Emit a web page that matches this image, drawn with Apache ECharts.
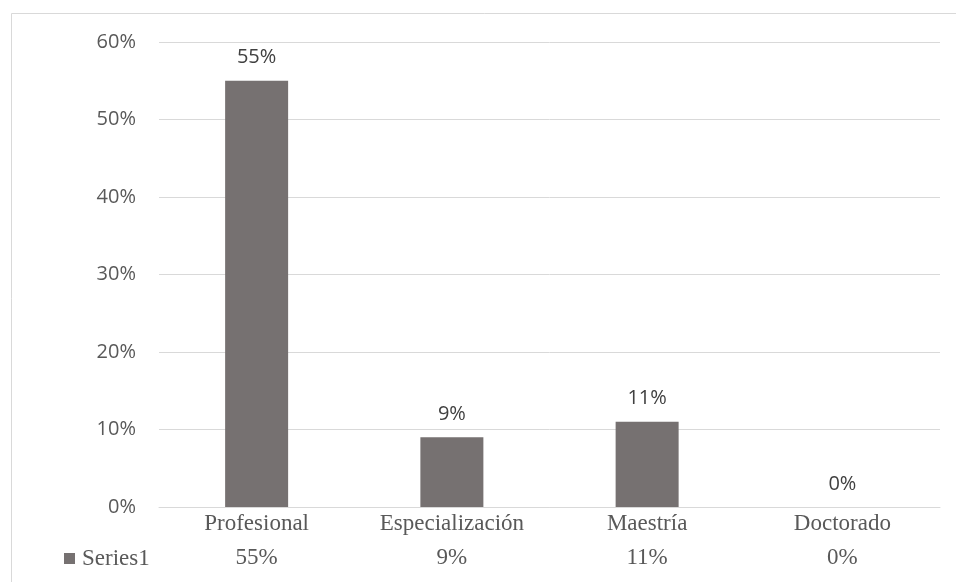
<!DOCTYPE html>
<html>
<head>
<meta charset="utf-8">
<script src="https://cdn.jsdelivr.net/npm/echarts@6/dist/echarts.min.js"></script>
<style>html,body{margin:0;padding:0;background:#fff}#c{width:956px;height:582px}</style>
</head>
<body>
<div id="c"></div>
<script>
const categories = ['Profesional', 'Especialización', 'Maestría', 'Doctorado'];
const seriesName = 'Series1';
const values = [0.55, 0.09, 0.11, 0.00];
const yTicks = [0, 0.1, 0.2, 0.3, 0.4, 0.5, 0.6];

const pct = v => Math.round(v * 100) + '%';
const chart = echarts.init(document.getElementById('c'));
chart.setOption({
  animation: false,
  backgroundColor: '#fff',
  graphic: [{
    type: 'rect', shape: {x: 11.5, y: 13.5, width: 1000, height: 1000},
    style: {fill: 'none', stroke: '#d9d9d9', lineWidth: 1}, silent: true
  }],
  legend: {
    left: 59, top: 542, icon: 'rect', itemWidth: 11, itemHeight: 11, itemGap: 2,
    textStyle: {fontFamily: 'Liberation Serif', fontSize: 23, color: '#595959', padding: [0,0,0,2]},
    data: [seriesName]
  },
  grid: {left: 159, right: 16, top: 42, bottom: 75},
  xAxis: [{
    type: 'category', data: categories, position: 'bottom',
    axisLine: {lineStyle: {color: '#d9d9d9'}}, axisTick: {show: false},
    axisLabel: {fontFamily: 'Liberation Serif', fontSize: 23, color: '#595959', margin: 5}
  }, {
    type: 'category', data: values.map(pct), position: 'bottom', offset: 34,
    axisLine: {show: false}, axisTick: {show: false},
    axisLabel: {fontFamily: 'Liberation Serif', fontSize: 23, color: '#595959', margin: 5}
  }],
  yAxis: {
    type: 'value', min: 0, max: 0.6, interval: 0.1,
    axisLine: {show: false}, axisTick: {show: false},
    splitLine: {lineStyle: {color: '#d9d9d9'}},
    axisLabel: {formatter: v => pct(v), fontFamily: 'Open Sans', fontSize: 20, color: '#595959', margin: 23}
  },
  series: [{
    name: seriesName, type: 'bar', data: values, barWidth: 63,
    itemStyle: {color: '#767171'},
    label: {show: true, position: 'top', distance: 13, formatter: p => pct(p.value),
      fontFamily: 'Open Sans', fontSize: 20, color: '#404040'}
  }]
});
</script>
</body>
</html>
